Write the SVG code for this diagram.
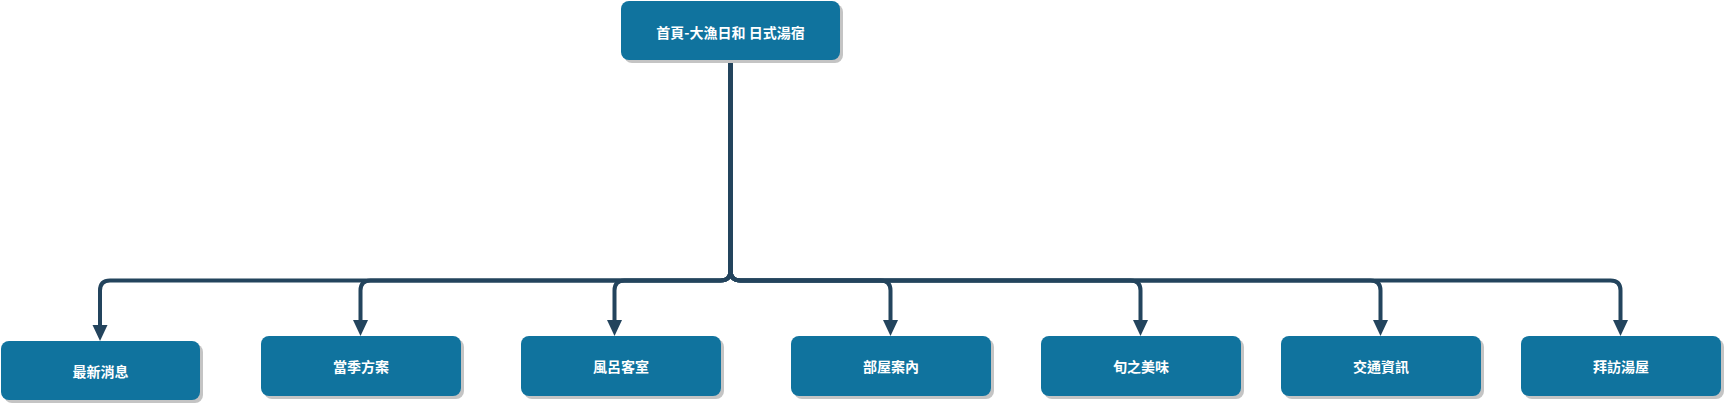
<svg xmlns="http://www.w3.org/2000/svg" width="1724" height="406" viewBox="0 0 1724 406">
<style>
.box{fill:#10739E;}
.sh{fill:#c4c4c4;}
.lbl{fill:#ffffff;font-family:"Noto Sans CJK TC","Noto Sans CJK SC",sans-serif;font-size:14px;font-weight:bold;text-anchor:middle;dominant-baseline:central;}
.edge{fill:none;stroke:#23445D;stroke-width:4;stroke-linejoin:round;}
</style>
<defs>
<marker id="arr" markerUnits="userSpaceOnUse" markerWidth="16" markerHeight="16" refX="0" refY="7.5" orient="auto" viewBox="0 0 16 15">
<path d="M0,0 L16,7.5 L0,15 z" fill="#23445D"/>
</marker>
</defs>
<rect width="1724" height="406" fill="#ffffff"/>
<g id="connectors">
<path class="edge" marker-end="url(#arr)" d="M730.5,60 V270.5 Q730.5,280.5 720.5,280.5 H110 Q100,280.5 100,290.5 V325"/>
<path class="edge" marker-end="url(#arr)" d="M730.5,60 V270.5 Q730.5,280.5 720.5,280.5 H370.5 Q360.5,280.5 360.5,290.5 V320"/>
<path class="edge" marker-end="url(#arr)" d="M730.5,60 V270.5 Q730.5,280.5 720.5,280.5 H624.5 Q614.5,280.5 614.5,290.5 V320"/>
<path class="edge" marker-end="url(#arr)" d="M730.5,60 V270.5 Q730.5,280.5 740.5,280.5 H880.5 Q890.5,280.5 890.5,290.5 V320"/>
<path class="edge" marker-end="url(#arr)" d="M730.5,60 V270.5 Q730.5,280.5 740.5,280.5 H1130.5 Q1140.5,280.5 1140.5,290.5 V320"/>
<path class="edge" marker-end="url(#arr)" d="M730.5,60 V270.5 Q730.5,280.5 740.5,280.5 H1370.5 Q1380.5,280.5 1380.5,290.5 V320"/>
<path class="edge" marker-end="url(#arr)" d="M730.5,60 V270.5 Q730.5,280.5 740.5,280.5 H1610.5 Q1620.5,280.5 1620.5,290.5 V320"/>
</g>
<g id="home">
<rect class="sh" x="624" y="4" width="219" height="59" rx="8"/>
<rect class="box" x="621" y="1" width="219" height="59" rx="8"/>
<text class="lbl" x="730.5" y="31.5">首頁-大漁日和 日式湯宿</text>
</g>
<g id="news">
<rect class="sh" x="4" y="344" width="199" height="59" rx="8"/>
<rect class="box" x="1" y="341" width="199" height="59" rx="8"/>
<text class="lbl" x="100.5" y="371">最新消息</text>
</g>
<g id="plans">
<rect class="sh" x="264" y="339" width="200" height="60" rx="8"/>
<rect class="box" x="261" y="336" width="200" height="60" rx="8"/>
<text class="lbl" x="361" y="366">當季方案</text>
</g>
<g id="rooms">
<rect class="sh" x="524" y="339" width="200" height="60" rx="8"/>
<rect class="box" x="521" y="336" width="200" height="60" rx="8"/>
<text class="lbl" x="621" y="366">風呂客室</text>
</g>
<g id="guide">
<rect class="sh" x="794" y="339" width="200" height="60" rx="8"/>
<rect class="box" x="791" y="336" width="200" height="60" rx="8"/>
<text class="lbl" x="891" y="366">部屋案內</text>
</g>
<g id="food">
<rect class="sh" x="1044" y="339" width="200" height="60" rx="8"/>
<rect class="box" x="1041" y="336" width="200" height="60" rx="8"/>
<text class="lbl" x="1141" y="366">旬之美味</text>
</g>
<g id="access">
<rect class="sh" x="1284" y="339" width="200" height="60" rx="8"/>
<rect class="box" x="1281" y="336" width="200" height="60" rx="8"/>
<text class="lbl" x="1381" y="366">交通資訊</text>
</g>
<g id="visit">
<rect class="sh" x="1524" y="339" width="200" height="60" rx="8"/>
<rect class="box" x="1521" y="336" width="200" height="60" rx="8"/>
<text class="lbl" x="1621" y="366">拜訪湯屋</text>
</g>
</svg>
